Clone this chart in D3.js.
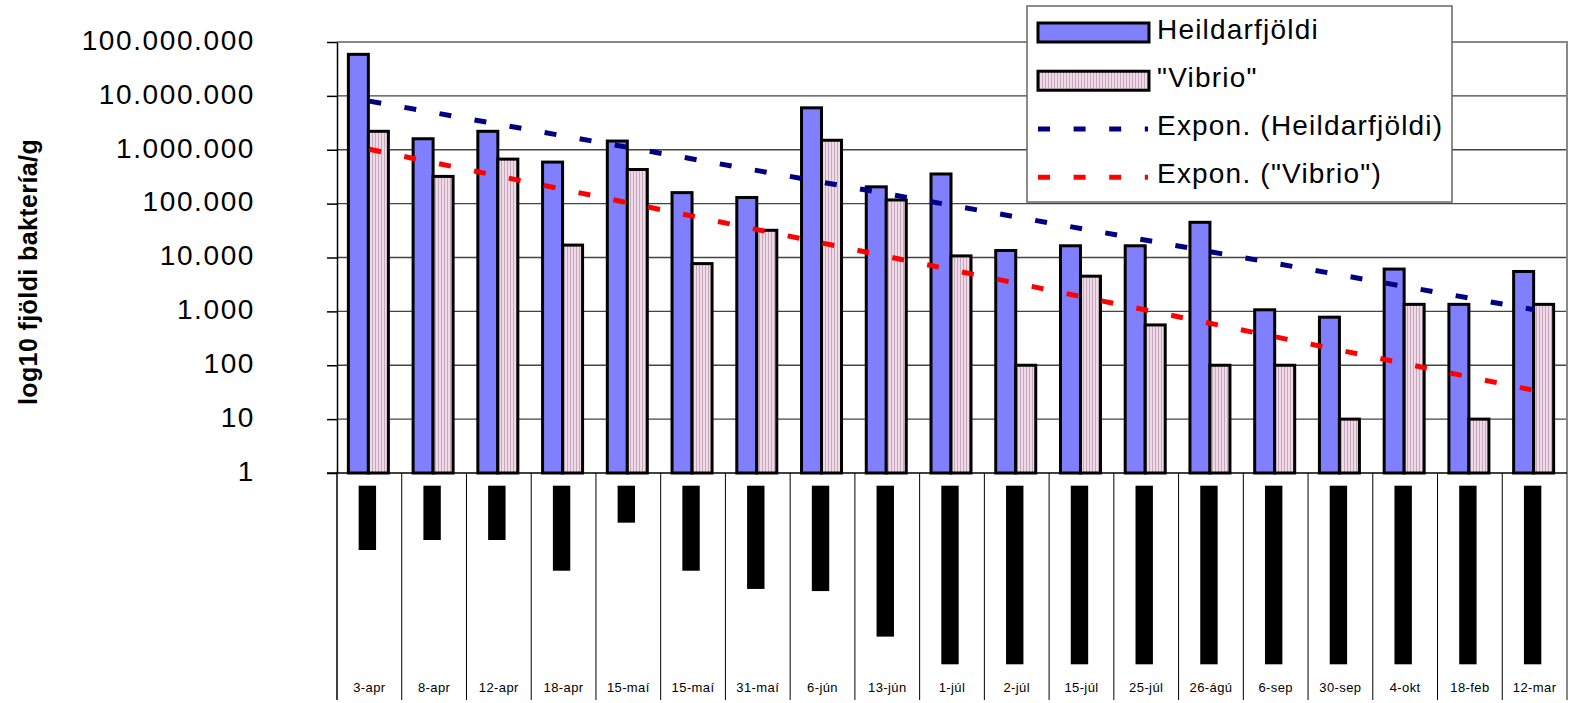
<!DOCTYPE html>
<html>
<head>
<meta charset="utf-8">
<script src="https://cdn.jsdelivr.net/npm/d3@7"></script>
<style>
  body { margin: 0; background: #fff; }
  text { font-family: Arial, "Liberation Sans", sans-serif; fill: #000; }
</style>
</head>
<body>
<div id="chart"></div>
<script>
// sampling dates
const categories = ["3-apr", "8-apr", "12-apr", "18-apr", "15-maí", "15-maí", "31-maí", "6-jún", "13-jún",
  "1-júl", "2-júl", "15-júl", "25-júl", "26-ágú", "6-sep", "30-sep", "4-okt", "18-feb", "12-mar"];
// bacteria per gram
const heildar = [5.9e7, 1.6e6, 2.2e6, 5.9e5, 1.45e6, 1.6e5, 1.3e5, 6.0e6, 2.05e5,
  3.55e5, 1.35e4, 1.65e4, 1.65e4, 4.5e4, 1070, 780, 6100, 1350, 5500];
const vibrio = [2.2e6, 3.2e5, 6.7e5, 1.7e4, 4.3e5, 7700, 3.2e4, 1.5e6, 1.17e5,
  1.07e4, 100, 4500, 560, 100, 100, 10, 1350, 10, 1350];
// exponential trendlines, value at first and last date
const trendHeildar = [8.0e6, 1070];
const trendVibrio = [1.02e6, 34];
// black strips in the table under the dates (percent of full length)
const stripLen = [36, 30.4, 30.4, 47.6, 20.7, 47.6, 57.8, 59, 84.5,
  100, 100, 100, 100, 100, 100, 100, 100, 100, 100];
const tickLabels = [1, 10, 100, 1000, 1e4, 1e5, 1e6, 1e7, 1e8];
const legendLabels = ["Heildarfjöldi", "\"Vibrio\"", "Expon. (Heildarfjöldi)", "Expon. (\"Vibrio\")"];

const width = 1579, height = 703;
const plot = {left: 337, right: 1567, top: 42, bottom: 473};
const tableBottom = 700;

const svg = d3.select("#chart")
    .append("svg")
    .attr("width", width)
    .attr("height", height);

const defs = svg.append("defs");
const pat = defs.append("pattern")
    .attr("id", "vibPat")
    .attr("width", 3).attr("height", 4)
    .attr("patternUnits", "userSpaceOnUse");
pat.append("rect").attr("width", 3).attr("height", 4).attr("fill", "#efdbe8");
pat.append("rect").attr("width", 1).attr("height", 4).attr("fill", "#c9a7bd");

const xScale = d3.scaleBand()
    .domain(d3.range(categories.length))
    .range([plot.left, plot.right]);
const inner = d3.scaleBand()
    .domain(["heildar", "vibrio"])
    .range([-21, 19]);
const yScale = d3.scaleLog()
    .domain([1, 1e8])
    .range([plot.bottom, plot.top]);
const stripScale = d3.scaleLinear()
    .domain([0, 100])
    .range([0, 178.6]);
const cx = i => xScale(i) + xScale.bandwidth() / 2;

const fmt = d3.formatLocale({decimal: ",", thousands: ".", grouping: [3], currency: ["", ""]}).format(",d");

// gridlines
svg.append("g")
    .selectAll("line")
    .data(tickLabels.slice(1, -1))
    .join("line")
    .attr("x1", plot.left).attr("x2", plot.right)
    .attr("y1", d => yScale(d)).attr("y2", d => yScale(d))
    .attr("stroke", "#444")
    .attr("stroke-width", 1.3);

// plot border top + right
svg.append("path")
    .attr("d", `M${plot.left},${plot.top}H${plot.right}V${tableBottom}`)
    .attr("fill", "none")
    .attr("stroke", "#888")
    .attr("stroke-width", 2);

// table column lines
svg.append("g")
    .selectAll("line")
    .data(d3.range(1, categories.length))
    .join("line")
    .attr("x1", d => xScale(d)).attr("x2", d => xScale(d))
    .attr("y1", plot.bottom).attr("y2", tableBottom)
    .attr("stroke", "#000")
    .attr("stroke-width", 1);

// bars
const groups = svg.append("g")
    .selectAll("g")
    .data(categories.map((c, i) => ({i, heildar: heildar[i], vibrio: vibrio[i]})))
    .join("g");
groups.append("rect")
    .attr("x", d => cx(d.i) + inner("heildar"))
    .attr("width", inner.bandwidth())
    .attr("y", d => yScale(d.heildar))
    .attr("height", d => plot.bottom - yScale(d.heildar))
    .attr("fill", "#8080ff")
    .attr("stroke", "#000")
    .attr("stroke-width", 3);
groups.append("rect")
    .attr("x", d => cx(d.i) + inner("vibrio"))
    .attr("width", inner.bandwidth())
    .attr("y", d => yScale(d.vibrio))
    .attr("height", d => plot.bottom - yScale(d.vibrio))
    .attr("fill", "url(#vibPat)")
    .attr("stroke", "#000")
    .attr("stroke-width", 3);

// trendlines
const last = categories.length - 1;
const trend = d3.line()
    .x(d => cx(d[0]))
    .y(d => yScale(d[1]));
svg.append("path")
    .attr("d", trend([[0, trendHeildar[0]], [last, trendHeildar[1]]]))
    .attr("fill", "none")
    .attr("stroke", "#000080")
    .attr("stroke-width", 5)
    .attr("stroke-dasharray", "12,23.6");
svg.append("path")
    .attr("d", trend([[0, trendVibrio[0]], [last, trendVibrio[1]]]))
    .attr("fill", "none")
    .attr("stroke", "#ff0000")
    .attr("stroke-width", 5)
    .attr("stroke-dasharray", "12,23.6");

// black strips in the table
svg.append("g")
    .selectAll("rect")
    .data(stripLen)
    .join("rect")
    .attr("x", (d, i) => cx(i) - 10.7)
    .attr("width", 17.4)
    .attr("y", plot.bottom + 12.7)
    .attr("height", d => stripScale(d))
    .attr("fill", "#000");

// y axis
const yAxis = d3.axisLeft(yScale)
    .tickValues(tickLabels)
    .tickSize(10)
    .tickSizeOuter(0)
    .tickPadding(72)
    .tickFormat(fmt);
const drawY = svg.append("g")
    .attr("transform", `translate(${plot.left},0)`)
    .call(yAxis);
drawY.select(".domain").attr("stroke", "#000").attr("stroke-width", 1.5);
drawY.selectAll(".tick line").attr("stroke", "#000").attr("stroke-width", 1.5);
drawY.selectAll(".tick text")
    .attr("font-size", 28)
    .attr("letter-spacing", 1.6)
    .attr("fill", "#000")
    .attr("dy", "0.26em");

svg.append("line")
    .attr("x1", plot.left).attr("x2", plot.left)
    .attr("y1", plot.bottom).attr("y2", tableBottom)
    .attr("stroke", "#000").attr("stroke-width", 1.5);
svg.append("line")
    .attr("x1", plot.left - 10).attr("x2", plot.right)
    .attr("y1", plot.bottom).attr("y2", plot.bottom)
    .attr("stroke", "#000").attr("stroke-width", 1.5);

// category labels
const xAxis = d3.axisBottom(xScale)
    .tickSize(0)
    .tickPadding(210)
    .tickFormat(i => categories[i]);
const drawX = svg.append("g")
    .attr("transform", `translate(0,${plot.bottom})`)
    .call(xAxis);
drawX.select(".domain").remove();
drawX.selectAll(".tick text")
    .attr("font-size", 13)
    .attr("letter-spacing", 0.4)
    .attr("fill", "#000");

// y axis title
svg.append("text")
    .attr("transform", "translate(37,272) rotate(-90)")
    .attr("text-anchor", "middle")
    .attr("font-size", 25)
    .attr("font-weight", "bold")
    .attr("letter-spacing", 0.4)
    .text("log10 fjöldi baktería/g");

// legend
const legend = svg.append("g").attr("transform", "translate(1027,6)");
legend.append("rect")
    .attr("width", 425).attr("height", 196)
    .attr("fill", "#fff")
    .attr("stroke", "#666")
    .attr("stroke-width", 1.5);
const rowY = d3.scaleLinear().domain([0, 3]).range([26.5, 171.2]);
legend.append("rect")
    .attr("x", 11).attr("y", rowY(0) - 9.5)
    .attr("width", 111).attr("height", 19)
    .attr("fill", "#8080ff").attr("stroke", "#000").attr("stroke-width", 3);
legend.append("rect")
    .attr("x", 11).attr("y", rowY(1) - 9.5)
    .attr("width", 111).attr("height", 19)
    .attr("fill", "url(#vibPat)").attr("stroke", "#000").attr("stroke-width", 3);
[["#000080", 2], ["#ff0000", 3]].forEach(([col, r]) => {
  legend.append("line")
      .attr("x1", 11).attr("x2", 121)
      .attr("y1", rowY(r)).attr("y2", rowY(r))
      .attr("stroke", col)
      .attr("stroke-width", 5)
      .attr("stroke-dasharray", "12,23.6");
});
legend.selectAll("text.lab")
    .data(legendLabels)
    .join("text")
    .attr("class", "lab")
    .attr("x", 130)
    .attr("y", (d, i) => rowY(i) + 6)
    .attr("font-size", 28)
    .attr("letter-spacing", 1.2)
    .text(d => d);
</script>
</body>
</html>
